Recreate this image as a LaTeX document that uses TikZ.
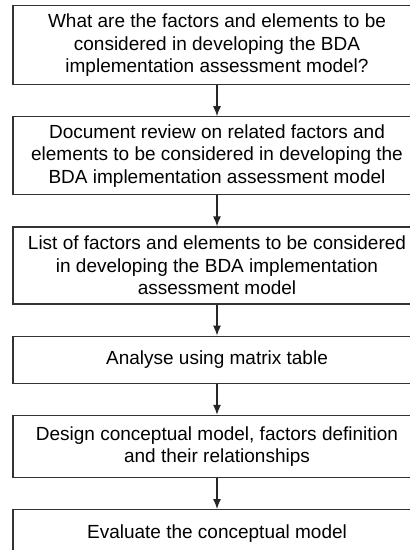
\documentclass[tikz,border=0pt]{standalone}
\usepackage{fontspec}
\setmainfont{Liberation Sans}
\usetikzlibrary{positioning,arrows.meta}

\begin{document}
\begin{tikzpicture}[
    stage/.style={draw=black!80, line width=1.2pt, minimum width=408pt, align=center,
      inner sep=2pt, font=\fontsize{19}{22.5}\selectfont},
    flow/.style={draw=black!85, line width=1.2pt, -{Latex[length=10pt,width=8pt]}}]
    \path[use as bounding box, clip] (0,0) rectangle (410pt,-550pt);

    \node[stage, minimum height=79pt, anchor=north] (question) at (217pt,-5pt)
      {What are the factors and elements to be\\considered in developing the BDA\\implementation assessment model?};
    \node[stage, minimum height=78pt, below=31pt of question] (review)
      {Document review on related factors and\\elements to be considered in developing the\\BDA implementation assessment model};
    \node[stage, minimum height=77pt, below=31pt of review] (list)
      {List of factors and elements to be considered\\in developing the BDA implementation\\assessment model};
    \node[stage, minimum height=47pt, below=31pt of list] (analyse)
      {Analyse using matrix table};
    \node[stage, minimum height=62pt, below=31pt of analyse] (design)
      {Design conceptual model, factors definition\\and their relationships};
    \node[stage, minimum height=47pt, below=31pt of design] (evaluate)
      {Evaluate the conceptual model};

    \draw[flow] (question) -- (review);
    \draw[flow] (review) -- (list);
    \draw[flow] (list) -- (analyse);
    \draw[flow] (analyse) -- (design);
    \draw[flow] (design) -- (evaluate);
  \end{tikzpicture}
\end{document}
